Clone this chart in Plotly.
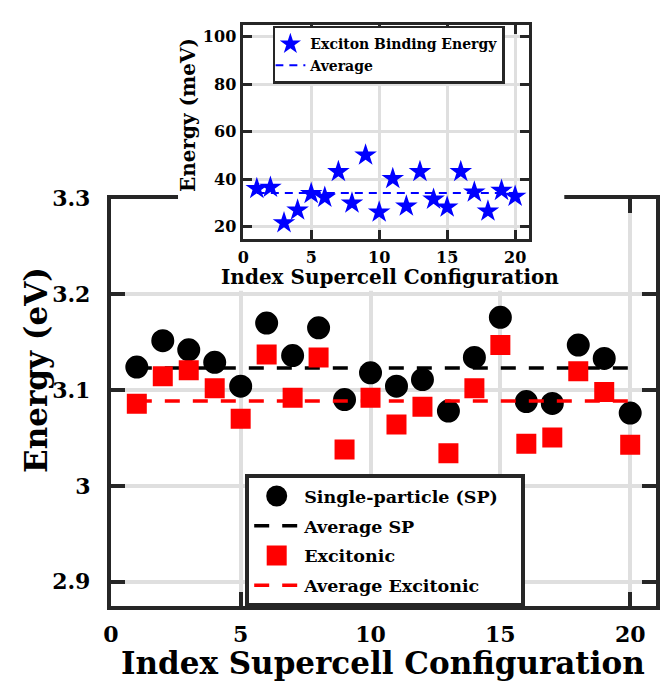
import plotly.graph_objects as go

# ---------------- data ----------------
config_index = list(range(1, 21))
sp_energy = [3.124, 3.1515, 3.142, 3.129, 3.104, 3.170, 3.136, 3.165, 3.090, 3.118,
             3.104, 3.111, 3.078, 3.134, 3.176, 3.088, 3.086, 3.147, 3.133, 3.076]
exc_energy = [3.0856, 3.1144, 3.1206, 3.102, 3.070, 3.137, 3.092, 3.134, 3.038, 3.092,
              3.064, 3.0825, 3.034, 3.102, 3.147, 3.044, 3.0505, 3.1196, 3.098, 3.043]
binding_mev = [36.1, 36.6, 21.7, 27.0, 34.0, 32.4, 43.2, 30.0, 50.2, 26.2,
               40.3, 28.7, 43.2, 31.6, 28.3, 43.2, 34.6, 26.6, 35.3, 32.8]
avg_span = [1, 20]
avg_sp = [3.123, 3.123]
avg_exc = [3.0885, 3.0885]
avg_binding = [34.2, 34.2]

main_xticks = [0, 5, 10, 15, 20]
main_yticks = [2.9, 3.0, 3.1, 3.2, 3.3]
main_yticktext = ["2.9", "3", "3.1", "3.2", "3.3"]
inset_xticks = [0, 5, 10, 15, 20]
inset_yticks = [20, 40, 60, 80, 100]

# ---------------- style ----------------
FONT = "DejaVu Serif"
AX = "#262626"
GRID = "#dfdfdf"
OFF = 8  # page body margin (top/left)
W, H = 670 - OFF, 683 - OFF


def px_x(p):
    return (p - OFF) / W


def px_y(p):
    return 1 - (p - OFF) / H


fig = go.Figure()

# main plot traces (legend order == draw order)
fig.add_trace(go.Scatter(
    x=config_index, y=sp_energy, mode="markers", name="Single-particle (SP)\u00a0\u00a0\u00a0",
    marker=dict(symbol="circle", size=18, color="black", line=dict(color="black", width=5)),
    legendgroup="a", legendrank=1))
fig.add_trace(go.Scatter(
    x=avg_span, y=avg_sp, mode="lines", name="Average SP",
    line=dict(color="black", width=3.5, dash="15px,13px"),
    legendgroup="b", legendrank=2))
fig.add_trace(go.Scatter(
    x=config_index, y=exc_energy, mode="markers", name="Excitonic",
    marker=dict(symbol="square", size=15, color="#ff0000", line=dict(color="#ff0000", width=5)),
    legendgroup="c", legendrank=3))
fig.add_trace(go.Scatter(
    x=avg_span, y=avg_exc, mode="lines", name="Average Excitonic",
    line=dict(color="#ff0000", width=3.5, dash="15px,13px"),
    legendgroup="d", legendrank=4))

# cover (white area behind the inset)
fig.add_trace(go.Scatter(x=[], y=[], xaxis="x2", yaxis="y2", showlegend=False, hoverinfo="skip"))

# inset traces
fig.add_trace(go.Scatter(
    x=config_index, y=binding_mev, mode="markers", name="Exciton Binding Energy",
    marker=dict(symbol="star", size=17, color="#0000ff", line=dict(width=0)),
    xaxis="x3", yaxis="y3", legend="legend2"))
fig.add_trace(go.Scatter(
    x=avg_span, y=avg_binding, mode="lines", name="Average",
    line=dict(color="#0000ff", width=2, dash="8px,6px"),
    xaxis="x3", yaxis="y3", legend="legend2"))

tickfont_main = dict(family=FONT, size=22, color="black", weight="bold")
tickfont_inset = dict(family=FONT, size=16, color="black", weight="bold")

fig.update_layout(
    width=W, height=H,
    margin=dict(l=0, r=0, t=0, b=0),
    paper_bgcolor="white", plot_bgcolor="white",
    showlegend=True,
    xaxis=dict(
        domain=[px_x(104), px_x(656)], range=[0, 21], tickvals=main_xticks,
        showgrid=True, gridcolor=GRID, gridwidth=4, zeroline=False,
        showline=True, linecolor=AX, linewidth=4, mirror="ticks",
        ticks="inside", ticklen=14, tickwidth=4, tickcolor=AX,
        tickfont=tickfont_main, ticklabelstandoff=6, anchor="y"),
    yaxis=dict(
        domain=[px_y(604), px_y(189)], range=[2.875, 3.3],
        tickvals=main_yticks, ticktext=main_yticktext,
        showgrid=True, gridcolor=GRID, gridwidth=4, zeroline=False,
        showline=True, linecolor=AX, linewidth=4, mirror="ticks",
        ticks="inside", ticklen=14, tickwidth=4, tickcolor=AX,
        tickfont=tickfont_main, ticklabelstandoff=12, anchor="x"),
    xaxis2=dict(domain=[px_x(172), px_x(563)], visible=False, anchor="y2", range=[0, 1]),
    yaxis2=dict(domain=[px_y(283), 1.0], visible=False, anchor="x2", range=[0, 1]),
    xaxis3=dict(
        domain=[px_x(238), px_x(527)], range=[0, 21], tickvals=inset_xticks,
        showgrid=True, gridcolor=GRID, gridwidth=2.5, zeroline=False,
        showline=True, linecolor=AX, linewidth=2.5, mirror="ticks",
        ticks="inside", ticklen=9, tickwidth=2.5, tickcolor=AX,
        tickfont=tickfont_inset, ticklabelstandoff=2, anchor="y3"),
    yaxis3=dict(
        domain=[px_y(230), px_y(12)], range=[15, 105], tickvals=inset_yticks,
        showgrid=True, gridcolor=GRID, gridwidth=2.5, zeroline=False,
        showline=True, linecolor=AX, linewidth=2.5, mirror="ticks",
        ticks="inside", ticklen=9, tickwidth=2.5, tickcolor=AX,
        tickfont=tickfont_inset, ticklabelstandoff=1, anchor="x3"),
    legend=dict(
        x=px_x(240), y=px_y(470), xanchor="left", yanchor="top",
        bgcolor="white", bordercolor=AX, borderwidth=4,
        font=dict(family=FONT, size=17.5, color="black", weight="bold"),
        itemwidth=45, tracegroupgap=4, traceorder="grouped"),
    legend2=dict(
        x=px_x(268), y=px_y(13), xanchor="left", yanchor="top",
        bgcolor="white", bordercolor=AX, borderwidth=2.5,
        font=dict(family=FONT, size=14, color="black", weight="bold"),
        itemwidth=30, indentation=-5),
)

title_font_main = dict(family=FONT, size=31, color="black", weight="bold")
title_font_inset = dict(family=FONT, size=20, color="black", weight="bold")
fig.add_annotation(text="Index Supercell Configuration", xref="paper", yref="paper",
                   x=px_x(379), y=px_y(663), xanchor="center", yanchor="middle",
                   showarrow=False, font=title_font_main)
fig.add_annotation(text="Energy (eV)", xref="paper", yref="paper",
                   x=px_x(28), y=px_y(364), xanchor="center", yanchor="middle",
                   textangle=-90, showarrow=False, font=title_font_main)
fig.add_annotation(text="Index Supercell Configuration", xref="paper", yref="paper",
                   x=px_x(387), y=px_y(269), xanchor="center", yanchor="middle",
                   showarrow=False, font=title_font_inset)
fig.add_annotation(text="Energy (meV)", xref="paper", yref="paper",
                   x=px_x(182), y=px_y(104), xanchor="center", yanchor="middle",
                   textangle=-90, showarrow=False, font=title_font_inset)

fig.write_html("out.html")
